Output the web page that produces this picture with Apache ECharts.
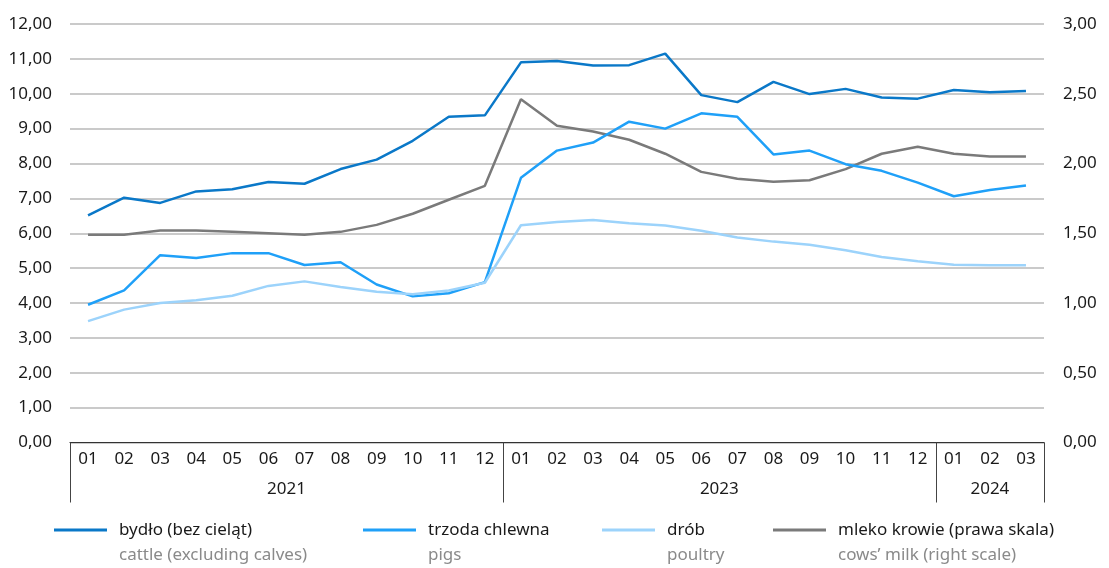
<!DOCTYPE html>
<html>
<head>
<meta charset="utf-8">
<script src="https://cdn.jsdelivr.net/npm/echarts@6/dist/echarts.min.js"></script>
<style>
  html, body { margin: 0; padding: 0; background: #fff; }
  #chart { width: 1109px; height: 568px; }
</style>
</head>
<body>
<div id="chart"></div>
<script>
const months = ['01','02','03','04','05','06','07','08','09','10','11','12',
  '01','02','03','04','05','06','07','08','09','10','11','12','01','02','03'];

// year row: half-month steps, labels in the middle of each block
const yearSlots = new Array(55).fill('');
yearSlots[12] = '2021';
yearSlots[36] = '2023';
yearSlots[51] = '2024';
const yearBreaks = [0, 24, 48, 54];

const cattle = [6.51, 7.02, 6.87, 7.20, 7.26, 7.47, 7.42, 7.84, 8.11, 8.65, 9.34, 9.38,
  10.90, 10.94, 10.81, 10.82, 11.15, 9.96, 9.76, 10.34, 9.99, 10.14, 9.89, 9.86,
  10.11, 10.04, 10.08];
const pigs = [3.95, 4.36, 5.37, 5.29, 5.43, 5.43, 5.09, 5.17, 4.53, 4.19, 4.28, 4.60,
  7.59, 8.37, 8.60, 9.20, 9.00, 9.44, 9.34, 8.26, 8.37, 7.98, 7.79, 7.45,
  7.06, 7.24, 7.37];
const poultry = [3.48, 3.81, 4.00, 4.08, 4.21, 4.49, 4.62, 4.46, 4.32, 4.25, 4.36, 4.58,
  6.23, 6.32, 6.38, 6.29, 6.22, 6.07, 5.88, 5.76, 5.67, 5.51, 5.32, 5.20,
  5.10, 5.08, 5.08];
const milk = [1.49, 1.49, 1.52, 1.52, 1.51, 1.50, 1.49, 1.51, 1.56, 1.64, 1.74, 1.84,
  2.46, 2.27, 2.23, 2.17, 2.07, 1.94, 1.89, 1.87, 1.88, 1.96, 2.07, 2.12,
  2.07, 2.05, 2.05];

const names = ['bydło (bez cieląt)', 'trzoda chlewna', 'drób', 'mleko krowie (prawa skala)'];
const namesEn = ['cattle (excluding calves)', 'pigs', 'poultry', 'cows\u2019 milk (right scale)'];
const colors = ['#0a78c8', '#1fa0f8', '#9cd3fb', '#7a7a7a'];
const legendX = [54, 363, 602, 773];

const font = 'Noto Sans';
const fmt = v => v.toFixed(2).replace('.', ',');

const chart = echarts.init(document.getElementById('chart'));

const lineSeries = (i, data, yIdx) => ({
  name: names[i],
  type: 'line',
  data: data,
  yAxisIndex: yIdx,
  xAxisIndex: 0,
  symbol: 'none',
  lineStyle: { color: colors[i], width: 2.5 },
  itemStyle: { color: colors[i] },
  z: i === 3 ? 2 : 3
});

chart.setOption({
  animation: false,
  grid: { left: 70, right: 65, top: 24, bottom: 125.5 },
  xAxis: [
    {
      type: 'category',
      data: months,
      position: 'bottom',
      axisLine: { lineStyle: { color: '#333', width: 1.2 } },
      axisTick: { interval: 0, length: 30, lineStyle: { color: '#444' } },
      axisLabel: { interval: 0, margin: 8, color: '#1a1a1a', fontFamily: font, fontSize: 17 }
    },
    {
      type: 'category',
      data: yearSlots,
      position: 'bottom',
      boundaryGap: false,
      axisLine: { show: false },
      axisTick: {
        interval: (i) => yearBreaks.includes(i),
        length: 60,
        lineStyle: { color: '#444' }
      },
      axisLabel: { interval: 0, margin: 38, color: '#1a1a1a', fontFamily: font, fontSize: 17 },
      splitLine: { show: false }
    }
  ],
  yAxis: [
    {
      type: 'value',
      min: 0, max: 12, interval: 1,
      axisLine: { show: false },
      axisTick: { show: false },
      axisLabel: { formatter: fmt, margin: 18, color: '#1a1a1a', fontFamily: font, fontSize: 17 },
      splitLine: { lineStyle: { color: '#b8b8b8', width: 1.5 } }
    },
    {
      type: 'value',
      min: 0, max: 3, interval: 0.5,
      position: 'right',
      axisLine: { show: false },
      axisTick: { show: false },
      axisLabel: { formatter: fmt, margin: 19, color: '#1a1a1a', fontFamily: font, fontSize: 17 },
      splitLine: { show: false }
    }
  ],
  legend: names.map((n, i) => ({
    data: [n],
    left: legendX[i],
    top: 520,
    padding: 0,
    icon: 'rect',
    itemWidth: 53,
    itemHeight: 3,
    selectedMode: false,
    textStyle: { color: '#1a1a1a', fontFamily: font, fontSize: 17, lineHeight: 20, padding: [0, 0, 0, 7] }
  })),
  graphic: namesEn.map((t, i) => ({
    type: 'text',
    left: legendX[i] + 65,
    top: 547,
    style: { text: t, fill: '#8a8a8a', font: '17px "Noto Sans"' }
  })),
  series: [
    lineSeries(3, milk, 1),
    lineSeries(0, cattle, 0),
    lineSeries(1, pigs, 0),
    lineSeries(2, poultry, 0)
  ]
});
</script>
</body>
</html>
